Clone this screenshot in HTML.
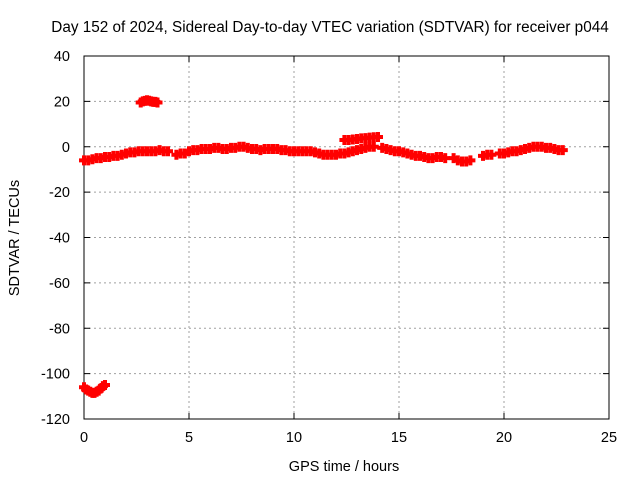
<!DOCTYPE html>
<html><head><meta charset="utf-8"><style>
body{margin:0;background:#fff;}
svg{display:block;font-family:"Liberation Sans",sans-serif;}
</style></head><body>
<svg id="chart" width="640" height="480">
<text x="330" y="32" font-size="15.3" text-anchor="middle">Day 152 of 2024, Sidereal Day-to-day VTEC variation (SDTVAR) for receiver p044</text>
<g id="grid"></g><g id="axes"></g><g id="marks"></g>
<text x="344" y="471" font-size="14.5" text-anchor="middle">GPS time / hours</text>
<text x="19" y="238" font-size="14.5" text-anchor="middle" transform="rotate(-90 19 238)">SDTVAR / TECUs</text>
</svg>
<script>
const xTicks=[0,5,10,15,20,25];
const yTicks=[40,20,0,-20,-40,-60,-80,-100,-120];
const mainHours=[0,0.2,0.4,0.6,0.8,1.0,1.2,1.4,1.6,1.8,2.0,2.2,2.4,2.6,2.8,3.0,3.2,3.4,3.6,3.8,4.0,4.4,4.6,4.8,5.0,5.2,5.4,5.6,5.8,6.0,6.2,6.4,6.6,6.8,7.0,7.2,7.4,7.6,7.8,8.0,8.2,8.4,8.6,8.8,9.0,9.2,9.4,9.6,9.8,10.0,10.2,10.4,10.6,10.8,11.0,11.2,11.4,11.6,11.8,12.0,12.2,12.4,12.6,12.8,13.0,13.2,13.4,13.6,13.8,14.2,14.4,14.6,14.8,15.0,15.2,15.4,15.6,15.8,16.0,16.2,16.4,16.6,16.8,17.0,17.2,17.6,17.8,18.0,18.2,18.4,19.0,19.2,19.4,19.8,20.0,20.2,20.4,20.6,20.8,21.0,21.2,21.4,21.6,21.8,22.0,22.2,22.4,22.6,22.8];
const mainValues=[-6,-6,-5.5,-5,-5,-4.5,-4.5,-4,-4,-3.5,-3,-2.5,-2.5,-2,-2,-2,-2,-2,-1.5,-2,-2,-3.5,-3,-3,-2,-1.5,-1.5,-1,-1,-1,-0.5,-0.5,-1,-1,-0.5,-0.5,0,0,-0.5,-1,-1,-1.5,-1,-1,-1,-1,-1.5,-1.5,-2,-2,-2,-2,-2,-2,-2.5,-3,-3.5,-3.5,-3.5,-3.5,-3,-3,-2.5,-2,-1.5,-1,-0.5,0,0,-0.5,-1,-1.5,-2,-2,-2.5,-3,-3.5,-4,-4,-4.5,-5,-5,-4.5,-4.5,-5,-5,-6,-6.5,-6.5,-6,-4,-3.5,-3.5,-3,-3,-2.5,-2,-2,-1.5,-1,-0.5,0,0,0,-0.5,-0.5,-1,-1.5,-1.5];
const highHours=[2.7,2.8,2.9,3.0,3.1,3.2,3.3,3.4,3.5];
const highValues=[19.5,20,20.2,20.5,20.3,20,19.8,19.8,19.5];
const midHours=[12.4,12.6,12.8,13.0,13.2,13.4,13.6,13.8,14.0];
const midValues=[3,3,3.2,3.4,3.7,3.8,4,4.2,4.3];
const lowHours=[0,0.1,0.2,0.3,0.4,0.5,0.6,0.7,0.8,0.9,1.0];
const lowValues=[-106,-107,-107.5,-108,-108.5,-108.5,-108,-107.5,-106.5,-105.5,-105];
const NS="http://www.w3.org/2000/svg";
const X0=84,X1=609,Y0=56,Y1=419;
function xs(h){return X0+(h-0)/(25-0)*(X1-X0);}
function ys(v){return Y0+(40-v)/(40-(-120))*(Y1-Y0);}
function mk(tag,attrs,parent){const e=document.createElementNS(NS,tag);for(const k in attrs)e.setAttribute(k,attrs[k]);parent.appendChild(e);return e;}
const grid=document.getElementById('grid'),axes=document.getElementById('axes'),marks=document.getElementById('marks');
xTicks.forEach(t=>{const x=xs(t);
 if(t>0&&t<25){const l=mk('line',{x1:x,x2:x,y1:Y0,y2:Y1,stroke:'#a0a0a0','stroke-dasharray':'2,3'},grid);
 
 }
 mk('line',{x1:x,x2:x,y1:Y1,y2:Y1-6,stroke:'#000'},axes);
 mk('line',{x1:x,x2:x,y1:Y0,y2:Y0+6,stroke:'#000'},axes);
 const tx=mk('text',{x:x,y:Y1+23,'font-size':14.5,'text-anchor':'middle'},axes);tx.textContent=t;
 
 
});
yTicks.forEach(t=>{const y=ys(t);
 if(t<40&&t>-120){const l=mk('line',{x1:X0,x2:X1,y1:y,y2:y,stroke:'#a0a0a0','stroke-dasharray':'2,3'},grid);
 
 }
 mk('line',{x1:X0,x2:X0+6,y1:y,y2:y,stroke:'#000'},axes);
 mk('line',{x1:X1,x2:X1-6,y1:y,y2:y,stroke:'#000'},axes);
 const tx=mk('text',{x:X0-14,y:y+5,'font-size':14.5,'text-anchor':'end'},axes);tx.textContent=t;
 
 
});
const frame=mk('rect',{x:X0,y:Y0,width:X1-X0,height:Y1-Y0,fill:'none',stroke:'#000'},axes);


function series(hs,vs){hs.forEach((h,i)=>{const x=xs(h),y=ys(vs[i]);
 const p=mk('path',{d:`M${x-5} ${y}H${x+5}M${x} ${y-5}V${y+5}`,stroke:'#f00','stroke-width':4},marks);
 
 
});}
series(mainHours,mainValues);series(highHours,highValues);series(midHours,midValues);series(lowHours,lowValues);
</script>
</body></html>
